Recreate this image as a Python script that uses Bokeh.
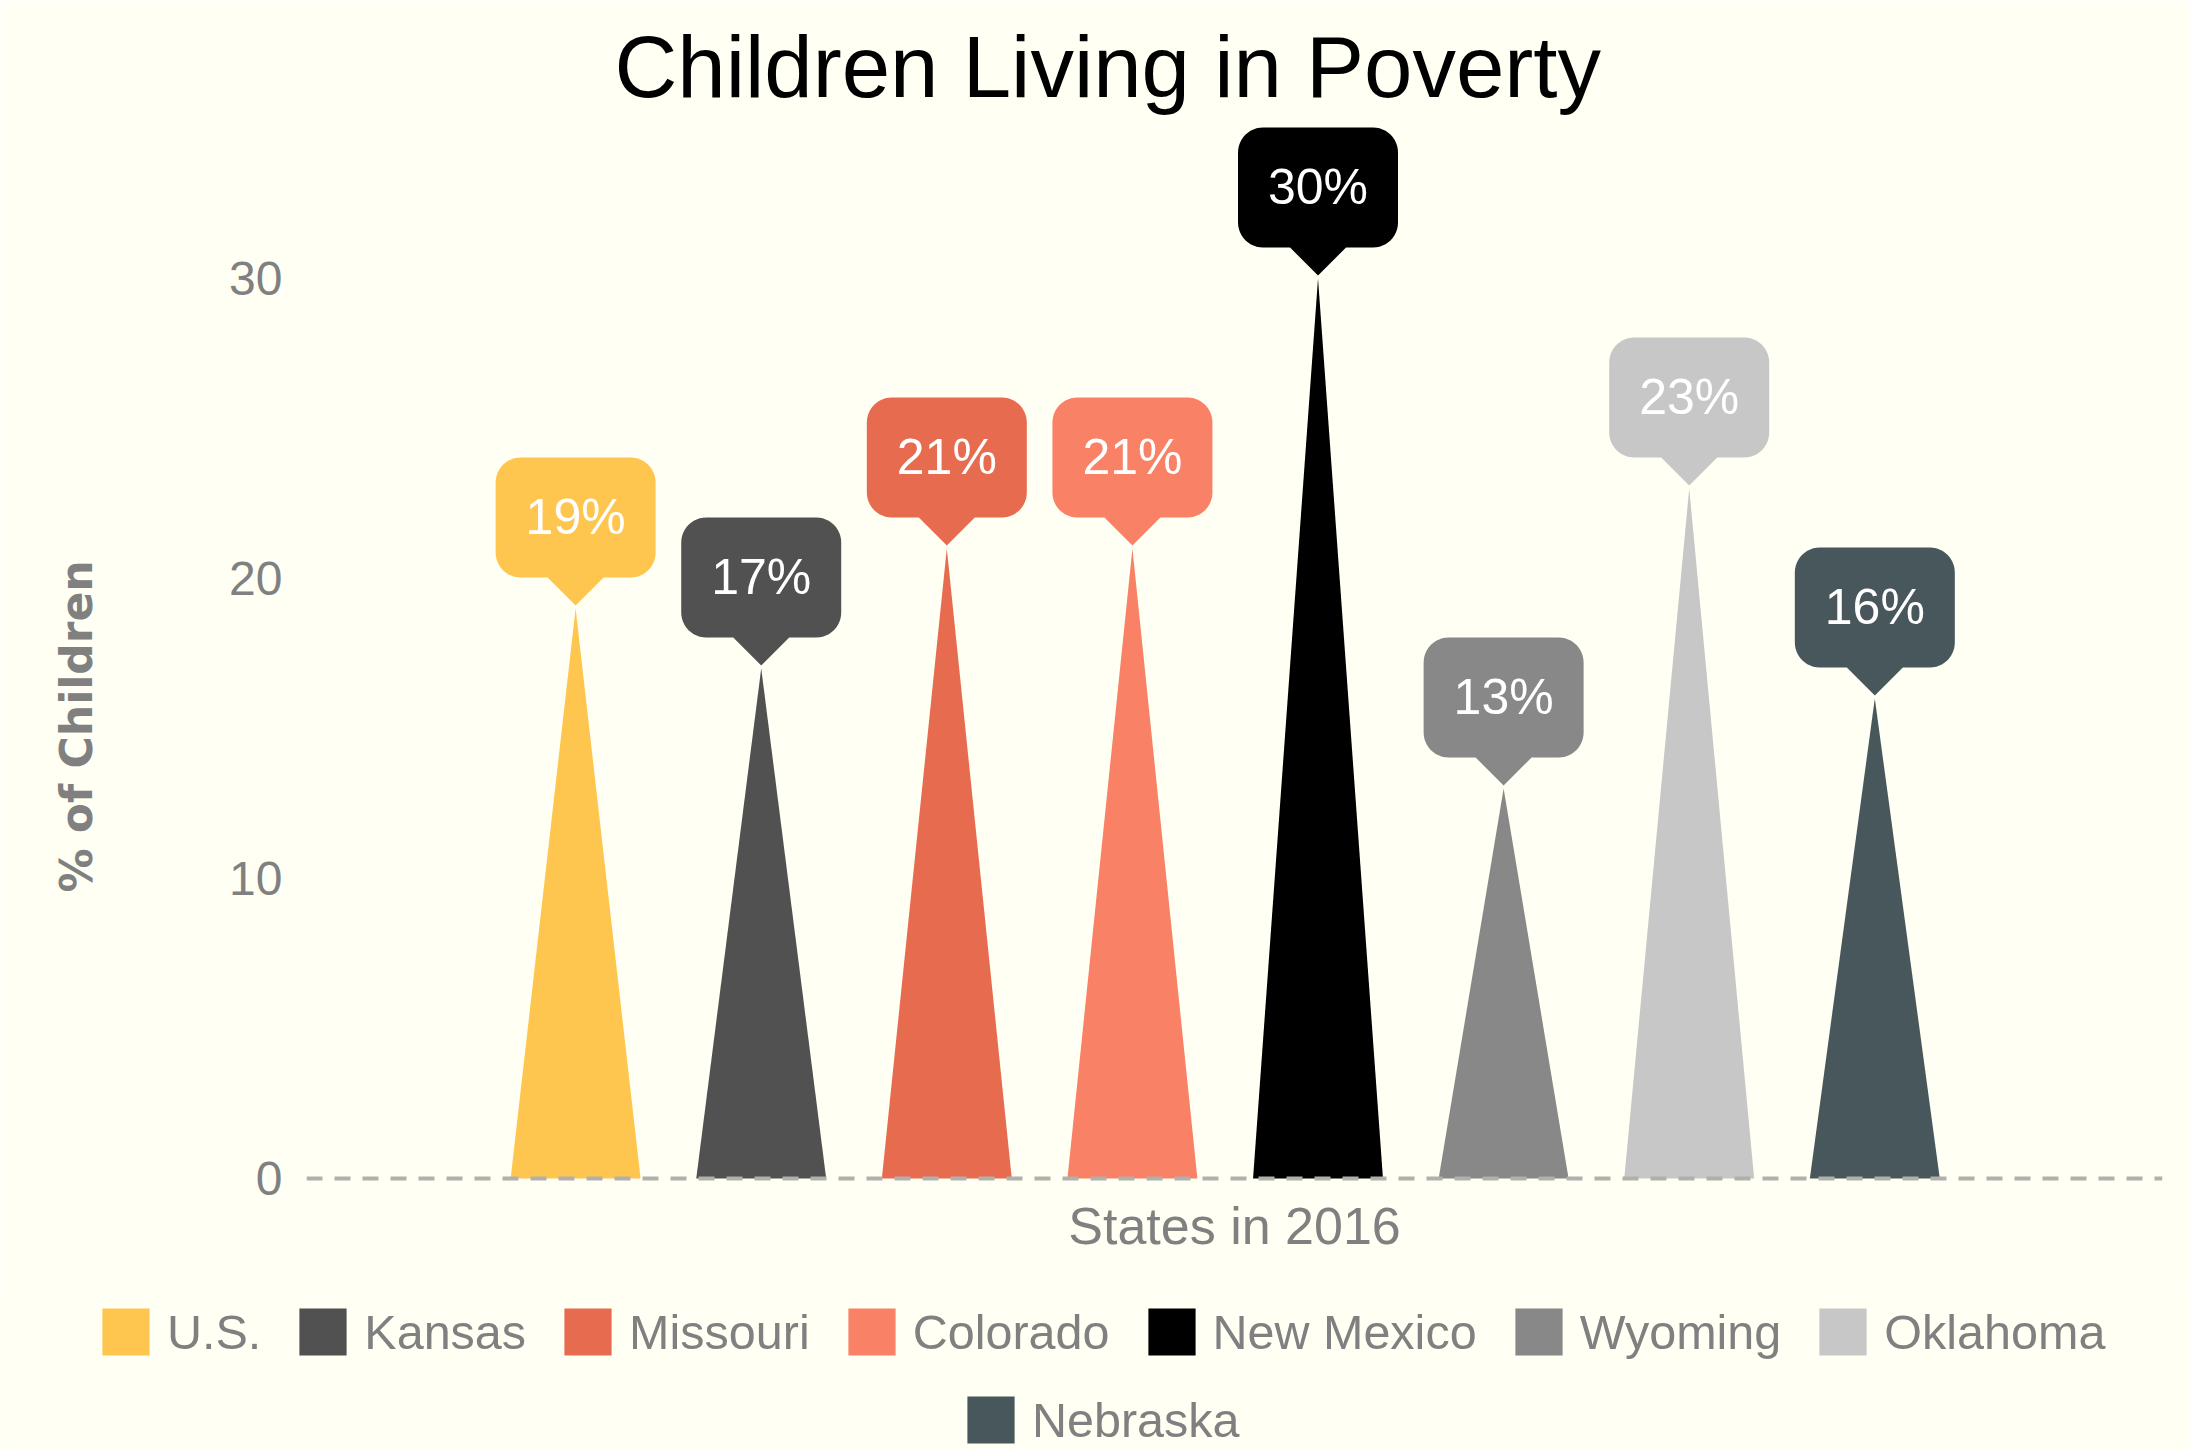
import math
from bokeh.plotting import figure
from bokeh.layouts import column
from bokeh.models import Span, Legend, LegendItem, FixedTicker, ColumnDataSource
from bokeh.embed import file_html
from bokeh.resources import INLINE
from bokeh.core.properties import value

# ---------------- data ----------------
states = ["U.S.", "Kansas", "Missouri", "Colorado", "New Mexico", "Wyoming", "Oklahoma", "Nebraska"]
poverty = [19, 17, 21, 21, 30, 13, 23, 16]
colors = ["#FFC64F", "#515151", "#E76B4F", "#F98166", "#000000", "#888888", "#C7C7C7", "#48575C"]
y_ticks = [0, 10, 20, 30]
title_text = "Children Living in Poverty"
x_title = "States in 2016"
y_title = "% of Children"

# ---------------- layout ----------------
W, H = 2190, 1290          # main chart
H_LEG = 160                # legend strip below
BL, BR, BT, BB = 306, 28, 118, 94
X0, X1 = -0.45, 9.55
Y0, Y1 = -0.6, 35.333
BG = "#FFFFF3"
GRAY = "#808080"
FONT = "Liberation Sans"

frame_w = W - BL - BR
frame_h = H - BT - BB
px_x = frame_w / (X1 - X0)   # pixels per data unit (x)
px_y = frame_h / (Y1 - Y0)   # pixels per data unit (y)

p = figure(width=W, height=H, x_range=(X0, X1), y_range=(Y0, Y1),
           output_backend="svg", toolbar_location=None,
           min_border_left=BL, min_border_right=BR,
           min_border_top=BT, min_border_bottom=BB)
p.background_fill_color = BG
p.border_fill_color = BG
p.outline_line_color = None
p.xgrid.visible = False
p.ygrid.visible = False

# title
p.title.text = title_text
p.title.text_font = FONT
p.title.text_font_size = "87px"
p.title.text_font_style = "normal"
p.title.text_color = "black"
p.title.align = "left"
p.title.offset = 308
p.title.standoff = 8

# zero line
p.add_layout(Span(location=0, dimension="width", line_color="#B0B0AC",
                  line_width=4, line_dash="16 12"))

# bars (pointed triangles)
xpos = [i + 1 for i in range(len(states))]
half = 0.35
bar_xs = [[x - half, x, x + half] for x in xpos]
bar_ys = [[0, v, 0] for v in poverty]
bar_src = ColumnDataSource(dict(xs=bar_xs, ys=bar_ys, color=colors, state=states))
bars = p.patches("xs", "ys", source=bar_src, fill_color="color", line_color=None)

# callout boxes (rounded box + pointer), sizes in pixels converted to data units
tip_gap, ptr_h, ptr_w, box_w, box_h, rad = 3, 28, 28, 160, 120, 25


def callout(cx, cy):
    pts = []
    b = tip_gap + ptr_h
    t = b + box_h
    l, r = -box_w / 2, box_w / 2
    pts.append((0, tip_gap))
    pts.append((ptr_w, b))
    def arc(ccx, ccy, a0, a1):
        for k in range(13):
            a = math.radians(a0 + (a1 - a0) * k / 12)
            pts.append((ccx + rad * math.cos(a), ccy + rad * math.sin(a)))
    arc(r - rad, b + rad, -90, 0)
    arc(r - rad, t - rad, 0, 90)
    arc(l + rad, t - rad, 90, 180)
    arc(l + rad, b + rad, 180, 270)
    pts.append((-ptr_w, b))
    xs = [cx + dx / px_x for dx, dy in pts]
    ys = [cy + dy / px_y for dx, dy in pts]
    return xs, ys


cxs, cys = [], []
for x, v in zip(xpos, poverty):
    a, b = callout(x, v)
    cxs.append(a)
    cys.append(b)
p.patches(cxs, cys, fill_color=colors, line_color=None)

label_y = [v + (tip_gap + ptr_h + box_h / 2) / px_y for v in poverty]
p.text(x=xpos, y=label_y, text=[f"{v}%" for v in poverty],
       text_font=value(FONT), text_font_size="50px", text_color="white",
       text_align="center", text_baseline="middle")

# axes
yax = p.yaxis[0]
yax.ticker = FixedTicker(ticks=y_ticks)
yax.axis_line_color = None
yax.major_tick_line_color = None
yax.minor_tick_line_color = None
yax.major_tick_out = 0
yax.major_label_standoff = 24
yax.major_label_text_font = FONT
yax.major_label_text_font_size = "48px"
yax.major_label_text_color = GRAY
# trailing no-break spaces shift the centred title down onto the 0-30 span
yax.axis_label = y_title + "\u00a0" * 9
yax.axis_label_text_font = "DejaVu Sans"
yax.axis_label_text_font_style = "bold"
yax.axis_label_text_font_size = "44px"
yax.axis_label_text_color = GRAY
yax.axis_label_standoff = 124

xax = p.xaxis[0]
xax.ticker = FixedTicker(ticks=[])
xax.axis_line_color = None
xax.major_tick_line_color = None
xax.minor_tick_line_color = None
xax.major_tick_out = 0
xax.major_label_text_font_size = "0px"
xax.axis_label = x_title
xax.axis_label_text_font = FONT
xax.axis_label_text_font_style = "normal"
xax.axis_label_text_font_size = "52px"
xax.axis_label_text_color = GRAY
xax.axis_label_standoff = 0

# ---------------- legend strip ----------------
leg = figure(width=W, height=H_LEG, x_range=(100, 101), y_range=(100, 101),
             output_backend="svg", toolbar_location=None,
             x_axis_type=None, y_axis_type=None,
             min_border_left=0, min_border_right=0,
             min_border_top=0, min_border_bottom=0)
leg.background_fill_color = BG
leg.border_fill_color = BG
leg.outline_line_color = None
leg.xgrid.visible = False
leg.ygrid.visible = False
leg_bars = leg.patches("xs", "ys", source=bar_src, fill_color="color", line_color=None)

for fig in (p, leg):
    if "frame_align" in fig.properties():
        fig.frame_align = False


def make_legend(idx, loc):
    items = [LegendItem(label=states[i], renderers=[leg_bars], index=i) for i in idx]
    return Legend(items=items, orientation="horizontal", location=loc,
                  glyph_width=59, glyph_height=59, label_standoff=12, spacing=32,
                  padding=0, margin=0, label_text_font=FONT,
                  label_text_font_size="48.5px", label_text_color=GRAY,
                  background_fill_alpha=0, border_line_color=None)


leg.add_layout(make_legend(range(0, 7), (96, 89)), "center")
leg.add_layout(make_legend([7], (961, 1)), "center")

layout = column(p, leg, spacing=0)

html = file_html(layout, INLINE)
html = html.replace("<body>", '<body style="background-color:#FFFFF3;">', 1)
open("out.html", "w").write(html)
